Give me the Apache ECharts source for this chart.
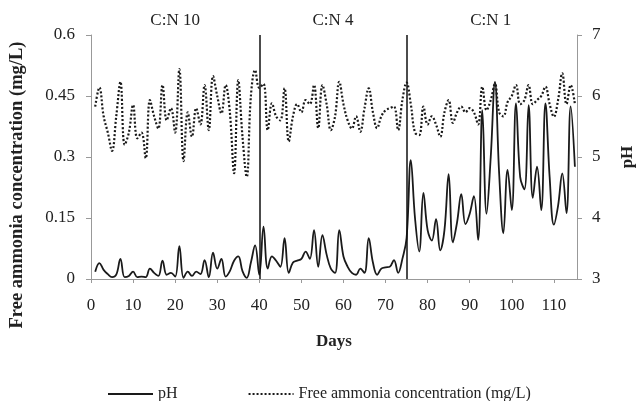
<!DOCTYPE html>
<html>
<head>
<meta charset="utf-8">
<script src="https://cdn.jsdelivr.net/npm/echarts@6/dist/echarts.min.js"></script>
<style>
  html, body { margin: 0; padding: 0; background: #fff; }
  #chart { width: 637px; height: 401px; }
</style>
</head>
<body>
<div id="chart"></div>
<script>
  // days of the run
  const days = [
    1, 2, 3, 4, 5, 6, 7, 8, 9, 10, 11, 12, 13, 14, 15, 16, 17, 18, 19, 20,
    21, 22, 23, 24, 25, 26, 27, 28, 29, 30, 31, 32, 33, 34, 35, 36, 37, 38, 39, 40,
    41, 42, 43, 44, 45, 46, 47, 48, 49, 50, 51, 52, 53, 54, 55, 56, 57, 58, 59, 60,
    61, 62, 63, 64, 65, 66, 67, 68, 69, 70, 71, 72, 73, 74, 75, 76, 77, 78, 79, 80,
    81, 82, 83, 84, 85, 86, 87, 88, 89, 90, 91, 92, 93, 94, 95, 96, 97, 98, 99, 100,
    101, 102, 103, 104, 105, 106, 107, 108, 109, 110, 111, 112, 113, 114, 115
  ]

  // solid line (legend: pH) - right axis
  const phValues = [
    3.12, 3.26, 3.15, 3.08, 3.03, 3.07, 3.33, 3.03, 3.05, 3.12, 3.03, 3.04, 3.03, 3.17, 3.10, 3.05, 3.30, 3.07, 3.10, 3.04,
    3.54, 3.02, 3.12, 3.05, 3.12, 3.08, 3.31, 3.03, 3.43, 3.17, 3.33, 3.04, 3.13, 3.30, 3.37, 3.13, 3.02, 3.27, 3.55, 3.07,
    3.86, 3.17, 3.37, 3.30, 3.20, 3.67, 3.10, 3.27, 3.30, 3.33, 3.45, 3.33, 3.80, 3.20, 3.72, 3.40, 3.17, 3.10, 3.80, 3.37,
    3.20, 3.10, 3.07, 3.17, 3.10, 3.67, 3.27, 3.07, 3.17, 3.19, 3.20, 3.31, 3.10, 3.33, 3.67, 4.95, 4.00, 3.45, 4.41, 3.80,
    3.63, 3.98, 3.47, 3.80, 4.72, 3.60, 3.93, 4.39, 3.90, 4.07, 4.36, 3.64, 5.77, 4.07, 5.00, 6.23, 4.73, 3.75, 4.79, 4.13,
    5.88, 4.67, 4.47, 5.85, 4.33, 4.84, 4.13, 5.88, 4.67, 3.89, 4.20, 4.73, 4.08, 5.83, 4.84
  ]

  // dotted line (legend: free ammonia, mg/L) - left axis
  const ammoniaValues = [
    0.424, 0.471, 0.400, 0.360, 0.315, 0.400, 0.485, 0.330, 0.360, 0.428, 0.346, 0.360, 0.297, 0.440, 0.400, 0.370, 0.477, 0.390, 0.420, 0.360,
    0.516, 0.290, 0.410, 0.350, 0.420, 0.380, 0.477, 0.366, 0.499, 0.450, 0.407, 0.477, 0.410, 0.260, 0.489, 0.350, 0.251, 0.450, 0.514, 0.470,
    0.480, 0.366, 0.432, 0.400, 0.390, 0.469, 0.338, 0.400, 0.430, 0.410, 0.440, 0.430, 0.477, 0.371, 0.477, 0.430, 0.366, 0.400, 0.485, 0.430,
    0.390, 0.370, 0.400, 0.362, 0.420, 0.469, 0.410, 0.371, 0.400, 0.415, 0.420, 0.424, 0.366, 0.440, 0.483, 0.430, 0.360, 0.354, 0.424, 0.380,
    0.400, 0.380, 0.350, 0.410, 0.440, 0.384, 0.410, 0.424, 0.410, 0.420, 0.410, 0.380, 0.473, 0.415, 0.440, 0.480, 0.410, 0.400, 0.435, 0.450,
    0.477, 0.430, 0.440, 0.477, 0.430, 0.440, 0.450, 0.473, 0.430, 0.399, 0.440, 0.506, 0.430, 0.477, 0.430
  ]

  // C:N phases (start day, end day)
  const phaseNames = ['C:N 10', 'C:N 4', 'C:N 1']
  const phaseStart = [0, 40, 75]
  const phaseEnd = [40, 75, 115]
  const phaseSwitchDays = [40, 75]

  const leftTicks = { min: 0, max: 0.6, interval: 0.15 }
  const rightTicks = { min: 3, max: 7, interval: 1 }

  const serif = '"Liberation Serif", "DejaVu Serif", serif'

  let myChart = echarts.init(document.getElementById('chart'), null, { renderer: 'canvas' })

  let option = {
    backgroundColor: '#fff',
    animation: false,
    textStyle: { fontFamily: serif },
    grid: { left: 91, right: 60, top: 35, bottom: 122, outerBoundsMode: 'none', containLabel: false },
    legend: {
      left: 102,
      top: 381,
      itemWidth: 45,
      itemHeight: 12,
      itemGap: 70,
      itemStyle: { opacity: 0 },
      textStyle: { fontFamily: serif, fontSize: 16, color: '#222' },
      data: ['pH', 'Free ammonia concentration (mg/L)']
    },
    graphic: [{
      type: 'text',
      x: 17,
      y: 185,
      rotation: Math.PI / 2,
      style: {
        text: 'Free ammonia concentration (mg/L)',
        font: 'bold 18.5px "Liberation Serif", serif',
        fill: '#222',
        textAlign: 'center',
        textVerticalAlign: 'middle'
      }
    }],
    xAxis: {
      type: 'value',
      min: 0,
      max: 115.5,
      interval: 10,
      name: 'Days',
      nameLocation: 'middle',
      nameGap: 54,
      nameTextStyle: { fontFamily: serif, fontSize: 17, fontWeight: 'bold', color: '#222' },
      axisLine: { lineStyle: { color: '#999', width: 1 } },
      axisTick: { show: true, length: 4, lineStyle: { color: '#999' } },
      axisLabel: { margin: 18, fontSize: 17, color: '#222', showMaxLabel: false },
      splitLine: { show: false }
    },
    yAxis: [{
      type: 'value',
      min: leftTicks.min,
      max: leftTicks.max,
      interval: leftTicks.interval,
      axisLine: { show: true, lineStyle: { color: '#999', width: 1 } },
      axisTick: { show: true, length: 5, lineStyle: { color: '#999' } },
      axisLabel: { margin: 16, fontSize: 17, color: '#222' },
      splitLine: { show: false }
    }, {
      type: 'value',
      position: 'right',
      min: rightTicks.min,
      max: rightTicks.max,
      interval: rightTicks.interval,
      name: 'pH',
      nameLocation: 'middle',
      nameRotate: 90,
      nameGap: 42,
      nameTextStyle: { fontFamily: serif, fontSize: 17, fontWeight: 'bold', color: '#222' },
      axisLine: { show: true, lineStyle: { color: '#999', width: 1 } },
      axisTick: { show: true, length: 5, lineStyle: { color: '#999' } },
      axisLabel: { margin: 15, fontSize: 17, color: '#222' },
      splitLine: { show: false }
    }],
    series: [{
      name: 'pH',
      type: 'line',
      yAxisIndex: 1,
      smooth: 0.4,
      symbol: 'none',
      data: days.map((d, i) => [d, phValues[i]]),
      lineStyle: { color: '#1a1a1a', width: 1.8 },
      itemStyle: { color: '#1a1a1a' },
      z: 3
    }, {
      name: 'Free ammonia concentration (mg/L)',
      type: 'line',
      yAxisIndex: 0,
      smooth: 0.4,
      symbol: 'none',
      data: days.map((d, i) => [d, ammoniaValues[i]]),
      lineStyle: { color: '#1a1a1a', width: 2.2, type: [2, 2] },
      itemStyle: { color: '#1a1a1a' },
      markLine: {
        silent: true,
        symbol: 'none',
        label: { show: false },
        lineStyle: { color: '#111', width: 1.5, type: 'solid' },
        data: phaseSwitchDays.map(d => ({ xAxis: d }))
      },
      markArea: {
        silent: true,
        itemStyle: { color: 'rgba(0,0,0,0)' },
        label: {
          show: true,
          position: 'top',
          distance: 6,
          fontFamily: serif,
          fontSize: 17,
          color: '#222'
        },
        data: phaseNames.map((n, i) => [{ name: n, xAxis: phaseStart[i] }, { xAxis: phaseEnd[i] }])
      },
      z: 2
    }]
  }

  myChart.setOption(option)
</script>
</body>
</html>
